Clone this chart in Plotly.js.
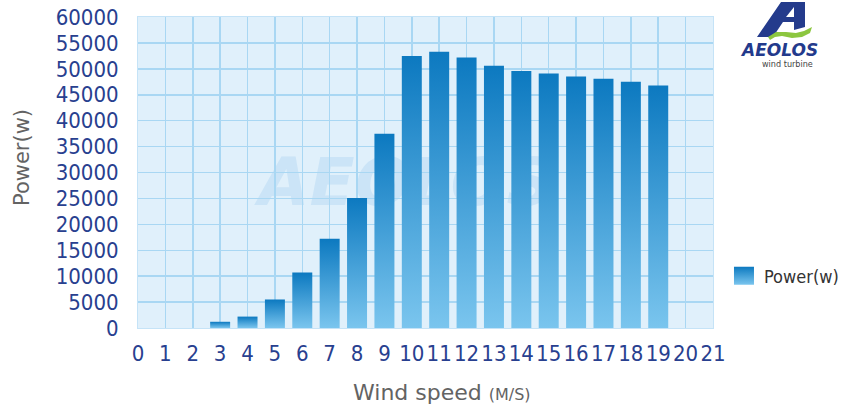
<!DOCTYPE html>
<html>
<head>
<meta charset="utf-8">
<script src="https://cdn.plot.ly/plotly-3.0.1.min.js"></script>
<style>
  html, body { margin: 0; padding: 0; background: #fff; }
  #chart { width: 849px; height: 409px; }
</style>
</head>
<body>
<div id="chart"></div>
<script>
// ---- data ----
var windSpeed = [3, 4, 5, 6, 7, 8, 9, 10, 11, 12, 13, 14, 15, 16, 17, 18, 19];
var power = [1200, 2200, 5500, 10700, 17200, 25100, 37500, 52500, 53300, 52200, 50600, 49600, 49100, 48500, 48100, 47500, 46800];
var seriesName = 'Power(w)';
var xTicks = [0,1,2,3,4,5,6,7,8,9,10,11,12,13,14,15,16,17,18,19,20,21];
var yTicks = [0,5000,10000,15000,20000,25000,30000,35000,40000,45000,50000,55000,60000];

// ---- layout helpers (pixel -> paper) ----
var W = 849, H = 409;
var mL = 138, mR = 136, mT = 17, mB = 81;
var pw = W - mL - mR, ph = H - mT - mB;
function px(x) { return ((x - mL) / pw).toFixed(4); }
function py(y) { return ((H - mB - y) / ph).toFixed(4); }
function pth(pts) {
  return 'M' + pts.map(function (p) { return px(p[0]) + ',' + py(p[1]); }).join('L') + 'Z';
}

var tickFont = { family: 'DejaVu Sans Condensed, DejaVu Sans, sans-serif', size: 22, color: '#28408F' };

var trace = {
  type: 'bar',
  x: windSpeed,
  y: power,
  name: seriesName,
  width: 0.73,
  marker: { color: '#3A9FDB', line: { width: 0 } },
  showlegend: true,
  hoverinfo: 'x+y'
};

var layout = {
  width: W, height: H,
  margin: { l: mL, r: mR, t: mT, b: mB, pad: 0, autoexpand: false },
  paper_bgcolor: '#ffffff',
  plot_bgcolor: '#E0F0FB',
  showlegend: true,
  legend: {
    x: px(724) * 1, y: py(276) * 1, xanchor: 'left', yanchor: 'middle',
    font: { family: 'DejaVu Sans Condensed, DejaVu Sans, sans-serif', size: 18, color: '#333333' },
    bgcolor: 'rgba(0,0,0,0)'
  },
  xaxis: {
    range: [0, 21],
    tickmode: 'array', tickvals: xTicks, ticktext: xTicks.map(String),
    tickangle: 0,
    showgrid: true, gridcolor: '#A9D7F3', gridwidth: 1.5,
    zeroline: false, showline: true, linecolor: '#C5E3F7', linewidth: 1, mirror: true,
    ticks: '', tickfont: tickFont, ticklabelstandoff: 6,
    automargin: false, fixedrange: true
  },
  yaxis: {
    range: [0, 60000],
    tickmode: 'array', tickvals: yTicks, ticktext: yTicks.map(String),
    showgrid: true, gridcolor: '#A9D7F3', gridwidth: 1.5,
    zeroline: false, showline: true, linecolor: '#C5E3F7', linewidth: 1, mirror: true,
    ticks: '', tickfont: tickFont, ticklabelstandoff: 14,
    automargin: false, fixedrange: true
  },
  annotations: [
    {
      xref: 'paper', yref: 'paper', x: px(22) * 1, y: py(158) * 1,
      text: 'Power(w)', textangle: -90, showarrow: false,
      xanchor: 'center', yanchor: 'middle',
      font: { family: 'DejaVu Sans, sans-serif', size: 21, color: '#636363' }
    },
    {
      xref: 'paper', yref: 'paper', x: px(442) * 1, y: py(392) * 1,
      text: 'Wind speed <span style="font-size:16px">(M/S)</span>', showarrow: false,
      xanchor: 'center', yanchor: 'middle',
      font: { family: 'DejaVu Sans, sans-serif', size: 22, color: '#636363' }
    },
    {
      xref: 'paper', yref: 'paper', x: px(779) * 1, y: py(50) * 1,
      text: '<b><i>AEOLOS</i></b>', showarrow: false,
      xanchor: 'center', yanchor: 'middle',
      font: { family: 'DejaVu Sans, sans-serif', size: 17, color: '#233A8C' }
    },
    {
      xref: 'paper', yref: 'paper', x: px(787) * 1, y: py(64) * 1,
      text: 'wind turbine', showarrow: false,
      xanchor: 'center', yanchor: 'middle',
      font: { family: 'DejaVu Sans Condensed, DejaVu Sans, sans-serif', size: 9, color: '#444444' }
    }
  ],
  shapes: [
    {
      type: 'rect', xref: 'x', yref: 'y', layer: 'below',
      x0: 4.7, x1: 14.9, y0: 23800, y1: 34400,
      line: { width: 0 }, fillcolor: 'rgba(0,0,0,0)',
      label: {
        text: '<b><i>AEOLOS</i></b>', textposition: 'middle center',
        font: { family: 'DejaVu Sans, sans-serif', size: 66, color: '#CBE4F7' }
      }
    },
    {
      type: 'path', xref: 'paper', yref: 'paper', layer: 'above',
      path: pth([[757,37],[781,2],[805,2],[805,27],[794,30],[794,22],[783,22],[773,37]]),
      fillcolor: '#243B8C', line: { width: 0 }
    },
    {
      type: 'path', xref: 'paper', yref: 'paper', layer: 'above',
      path: pth([[786,17],[794,7],[794,17]]),
      fillcolor: '#ffffff', line: { width: 0 }
    },
    {
      type: 'path', xref: 'paper', yref: 'paper', layer: 'above',
      path: pth([[768,37],[776,32],[786,32],[796,33],[804,31],[812,27],[810,33],[802,37],[792,38],[782,36],[775,37],[770,40]]),
      fillcolor: '#8CC63F', line: { width: 0 }
    }
  ]
};

var gd = document.getElementById('chart');
Plotly.newPlot(gd, [trace], layout, { displayModeBar: false, staticPlot: true }).then(function () {
  var svg = gd.querySelector('.main-svg');
  var defs = svg.querySelector('defs');
  var ns = 'http://www.w3.org/2000/svg';
  var grad = document.createElementNS(ns, 'linearGradient');
  grad.setAttribute('id', 'barGrad');
  grad.setAttribute('x1', '0'); grad.setAttribute('y1', '0');
  grad.setAttribute('x2', '0'); grad.setAttribute('y2', '1');
  [['0', '#0C79C0'], ['1', '#7AC5EE']].forEach(function (s) {
    var st = document.createElementNS(ns, 'stop');
    st.setAttribute('offset', s[0]);
    st.setAttribute('stop-color', s[1]);
    grad.appendChild(st);
  });
  defs.appendChild(grad);
  gd.querySelectorAll('.trace.bars .point path').forEach(function (p) {
    p.style.fill = 'url(#barGrad)';
  });
  gd.querySelectorAll('.legendpoints path').forEach(function (p) {
    p.setAttribute('d', 'M10,9H-10V-9H10Z');
    p.style.fill = 'url(#barGrad)';
    p.style.strokeWidth = '0';
  });
});
</script>
</body>
</html>
